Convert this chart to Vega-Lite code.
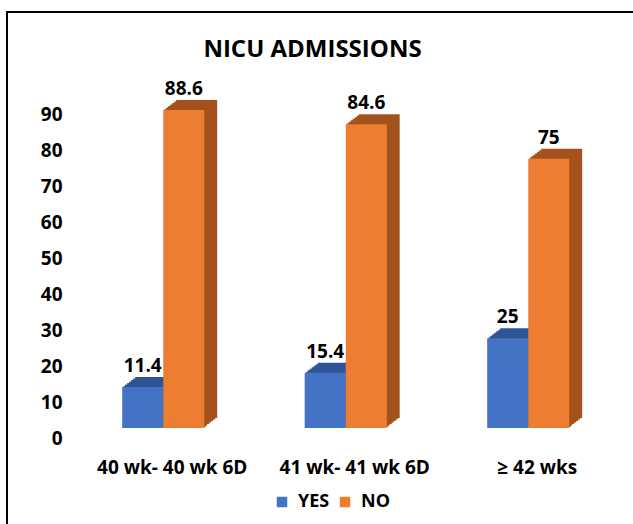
{
  "$schema": "https://vega.github.io/schema/vega-lite/v6.json",
  "width": 631,
  "height": 517,
  "autosize": "none",
  "padding": {"left": 7, "top": 12, "right": -5, "bottom": -5},
  "background": "white",
  "title": {
    "text": "NICU ADMISSIONS",
    "font": "Open Sans",
    "fontSize": 24,
    "fontWeight": "bold",
    "color": "#000000",
    "anchor": "middle",
    "dx": -10,
    "baseline": "alphabetic",
    "offset": -69
  },
  "data": {
    "values": [
      {"group": "40 wk- 40 wk 6D", "type": "YES", "value": 11.4},
      {"group": "40 wk- 40 wk 6D", "type": "NO", "value": 88.6},
      {"group": "41 wk- 41 wk 6D", "type": "YES", "value": 15.4},
      {"group": "41 wk- 41 wk 6D", "type": "NO", "value": 84.6},
      {"group": "≥ 42 wks", "type": "YES", "value": 25},
      {"group": "≥ 42 wks", "type": "NO", "value": 75}
    ]
  },
  "encoding": {
    "x": {
      "field": "group",
      "type": "nominal",
      "sort": null,
      "scale": {"range": [65, 612.5], "paddingInner": 0.55, "paddingOuter": 0.275},
      "axis": {
        "title": null,
        "orient": "bottom",
        "labelAngle": 0,
        "domain": false,
        "ticks": false,
        "tickSize": 0,
        "labelPadding": 0,
        "offset": -56,
        "labelBaseline": "alphabetic",
        "labelOffset": 9,
        "labelFont": "Open Sans",
        "labelFontSize": 19,
        "labelFontWeight": "bold",
        "labelColor": "#000000"
      }
    },
    "y": {
      "field": "value",
      "type": "quantitative",
      "scale": {"domain": [0, 100], "range": [416, 57], "nice": false},
      "axis": {
        "title": null,
        "values": [0, 10, 20, 30, 40, 50, 60, 70, 80, 90],
        "grid": false,
        "domain": false,
        "ticks": false,
        "tickSize": 0,
        "labelPadding": 0,
        "offset": -55,
        "labelOffset": 10,
        "labelFont": "Open Sans",
        "labelFontSize": 19,
        "labelFontWeight": "bold",
        "labelColor": "#000000"
      }
    }
  },
  "layer": [
    {
      "mark": {"type": "bar", "yOffset": -10, "y2Offset": -10},
      "encoding": {
        "xOffset": {"field": "type", "type": "nominal", "sort": ["YES", "NO"], "scale": {"range": [13, 95]}},
        "color": {"condition": {"test": "datum.type === 'YES'", "value": "#2F5597"}, "value": "#A4521C"}
      }
    },
    {
      "mark": {"type": "bar", "yOffset": -8.5, "y2Offset": -8.5},
      "encoding": {
        "xOffset": {"field": "type", "type": "nominal", "sort": ["YES", "NO"], "scale": {"range": [11, 93]}},
        "color": {"condition": {"test": "datum.type === 'YES'", "value": "#2F5597"}, "value": "#A4521C"}
      }
    },
    {
      "mark": {"type": "bar", "yOffset": -7, "y2Offset": -7},
      "encoding": {
        "xOffset": {"field": "type", "type": "nominal", "sort": ["YES", "NO"], "scale": {"range": [9, 91]}},
        "color": {"condition": {"test": "datum.type === 'YES'", "value": "#2F5597"}, "value": "#A4521C"}
      }
    },
    {
      "mark": {"type": "bar", "yOffset": -5.5, "y2Offset": -5.5},
      "encoding": {
        "xOffset": {"field": "type", "type": "nominal", "sort": ["YES", "NO"], "scale": {"range": [7, 89]}},
        "color": {"condition": {"test": "datum.type === 'YES'", "value": "#2F5597"}, "value": "#A4521C"}
      }
    },
    {
      "mark": {"type": "bar", "yOffset": -4, "y2Offset": -4},
      "encoding": {
        "xOffset": {"field": "type", "type": "nominal", "sort": ["YES", "NO"], "scale": {"range": [5, 87]}},
        "color": {"condition": {"test": "datum.type === 'YES'", "value": "#2F5597"}, "value": "#A4521C"}
      }
    },
    {
      "mark": {"type": "bar", "yOffset": -2.5, "y2Offset": -2.5},
      "encoding": {
        "xOffset": {"field": "type", "type": "nominal", "sort": ["YES", "NO"], "scale": {"range": [3, 85]}},
        "color": {"condition": {"test": "datum.type === 'YES'", "value": "#2F5597"}, "value": "#A4521C"}
      }
    },
    {
      "mark": {"type": "bar", "yOffset": -1, "y2Offset": -1},
      "encoding": {
        "xOffset": {"field": "type", "type": "nominal", "sort": ["YES", "NO"], "scale": {"range": [1.5, 83.5]}},
        "color": {"condition": {"test": "datum.type === 'YES'", "value": "#2F5597"}, "value": "#A4521C"}
      }
    },
    {
      "mark": {"type": "bar"},
      "encoding": {
        "xOffset": {"field": "type", "type": "nominal", "sort": ["YES", "NO"]},
        "color": {
          "field": "type",
          "type": "nominal",
          "scale": {"domain": ["YES", "NO"], "range": ["#4472C4", "#ED7D31"]},
          "legend": {
            "title": null,
            "orient": "none",
            "legendX": 266,
            "legendY": 481,
            "direction": "horizontal",
            "symbolType": "square",
            "symbolSize": 110,
            "symbolStrokeWidth": 0,
            "labelFont": "Open Sans",
            "labelFontSize": 18,
            "labelFontWeight": "bold",
            "labelColor": "#000000",
            "labelOffset": 7,
            "columnPadding": 6
          }
        }
      }
    },
    {
      "mark": {"type": "text", "dy": -15, "baseline": "alphabetic", "font": "Open Sans", "fontSize": 19, "fontWeight": "bold", "color": "#000000"},
      "encoding": {
        "xOffset": {"field": "type", "type": "nominal", "sort": ["YES", "NO"]},
        "text": {"field": "value", "type": "quantitative"}
      }
    }
  ],
  "resolve": {"scale": {"xOffset": "independent"}},
  "config": {
    "view": {"stroke": "#000000", "strokeWidth": 2}
  }
}
